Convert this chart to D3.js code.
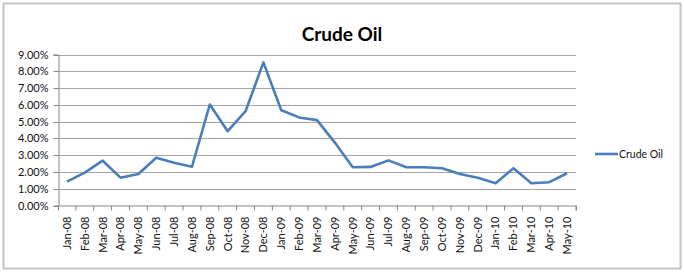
<!DOCTYPE html>
<html>
<head>
<meta charset="utf-8">
<script src="https://cdnjs.cloudflare.com/ajax/libs/d3/7.8.5/d3.min.js"></script>
<style>
  body { margin: 0; background: #fff; }
  svg { display: block; font-family: Lato, "Open Sans", sans-serif; }
</style>
</head>
<body>
<div id="chart"></div>
<script>
const months = [
  "Jan-08", "Feb-08", "Mar-08", "Apr-08", "May-08", "Jun-08", "Jul-08", "Aug-08",
  "Sep-08", "Oct-08", "Nov-08", "Dec-08", "Jan-09", "Feb-09", "Mar-09", "Apr-09",
  "May-09", "Jun-09", "Jul-09", "Aug-09", "Sep-09", "Oct-09", "Nov-09", "Dec-09",
  "Jan-10", "Feb-10", "Mar-10", "Apr-10", "May-10"
],
crudeOil = [
  1.42, 1.96, 2.67, 1.66, 1.88, 2.85, 2.55, 2.31,
  6.02, 4.43, 5.62, 8.53, 5.68, 5.25, 5.09, 3.75,
  2.28, 2.30, 2.69, 2.28, 2.28, 2.22, 1.88, 1.66,
  1.33, 2.22, 1.33, 1.39, 1.92
],
yTicks = [0, 1, 2, 3, 4, 5, 6, 7, 8, 9],
seriesName = "Crude Oil",
width = 684,
height = 273,
plot = { left: 58, right: 576, top: 54.5, bottom: 205.5 };

const svg = d3.select('#chart')
  .append('svg')
  .attr('width', width)
  .attr('height', height);

// chart frame
svg.append('rect')
  .attr('x', 3.5)
  .attr('y', 3.5)
  .attr('width', 677)
  .attr('height', 265)
  .attr('fill', '#fff')
  .attr('stroke', '#c3c3c3')
  .attr('stroke-width', 2);

const x = d3.scaleBand()
  .domain(months)
  .range([plot.left, plot.right]);

const y = d3.scaleLinear()
  .domain([0, 9])
  .range([plot.bottom, plot.top]);

// gridlines
svg.append('g')
  .selectAll('line')
  .data(yTicks.slice(1))
  .join('line')
  .attr('x1', plot.left)
  .attr('x2', plot.right)
  .attr('y1', d => Math.round(y(d)) + 0.5)
  .attr('y2', d => Math.round(y(d)) + 0.5)
  .attr('stroke', '#a6a6a6')
  .attr('stroke-width', 1);

// y axis
const yAxis = svg.append('g')
  .attr('transform', `translate(${plot.left + 0.5},0)`)
  .call(d3.axisLeft(y).tickValues(yTicks).tickSize(5).tickPadding(5)
    .tickFormat(d => d.toFixed(2) + '%'));

yAxis.select('.domain').attr('stroke', '#868686');
yAxis.selectAll('.tick line').attr('stroke', '#868686');
yAxis.selectAll('.tick').attr('transform', d => `translate(0,${Math.round(y(d)) + 0.5})`);
yAxis.selectAll('text')
  .attr('fill', '#111')
  .style('font-size', '11px')
  .style('font-family', 'Lato, sans-serif');

// x axis
const xAxis = svg.append('g')
  .attr('transform', `translate(0,${plot.bottom})`)
  .call(d3.axisBottom(x).tickSize(5).tickPadding(2));

xAxis.select('.domain').attr('stroke', '#868686');
xAxis.selectAll('.tick line')
  .attr('stroke', '#868686')
  .attr('transform', `translate(${x.bandwidth() / 2},0)`);
xAxis.selectAll('text')
  .attr('fill', '#111')
  .style('font-size', '11px')
  .style('font-family', 'Lato, sans-serif')
  .attr('text-anchor', 'end')
  .attr('dy', '0.35em')
  .attr('transform', 'translate(0,11) rotate(-90)')
  .attr('x', 0)
  .attr('y', 0);

// line
const line = d3.line()
  .x((d, i) => x(months[i]) + x.bandwidth() / 2)
  .y(d => y(d));

svg.append('path')
  .datum(crudeOil)
  .attr('d', line)
  .attr('fill', 'none')
  .attr('stroke', '#4a7ebb')
  .attr('stroke-width', 2.6)
  .attr('stroke-linejoin', 'round');

// title
svg.append('text')
  .attr('x', 342)
  .attr('y', 41)
  .attr('text-anchor', 'middle')
  .style('font-size', '19px')
  .style('font-weight', 'bold')
  .attr('fill', '#000')
  .text(seriesName);

// legend
const legend = svg.append('g');

legend.append('line')
  .attr('x1', 595)
  .attr('x2', 618)
  .attr('y1', 154)
  .attr('y2', 154)
  .attr('stroke', '#4a7ebb')
  .attr('stroke-width', 2.6);

legend.append('text')
  .attr('x', 619)
  .attr('y', 154)
  .attr('dy', '0.35em')
  .style('font-size', '10.5px')
  .attr('fill', '#111')
  .text(seriesName);
</script>
</body>
</html>
